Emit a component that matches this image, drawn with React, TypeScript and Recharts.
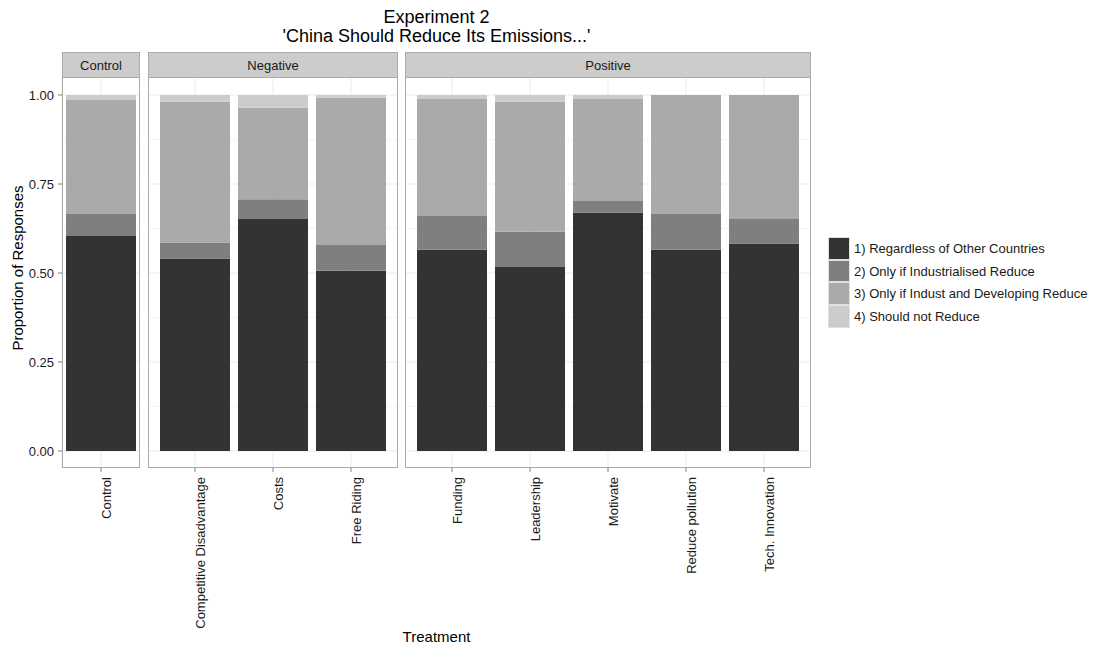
import React from "react";
import { BarChart, Bar, XAxis, YAxis, CartesianGrid } from "recharts";

// treatments in plot order, with the facet each belongs to
const treatments = [
  "Control",
  "Competitive Disadvantage",
  "Costs",
  "Free Riding",
  "Funding",
  "Leadership",
  "Motivate",
  "Reduce pollution",
  "Tech. Innovation",
];
const treatmentFacet = [
  "Control",
  "Negative",
  "Negative",
  "Negative",
  "Positive",
  "Positive",
  "Positive",
  "Positive",
  "Positive",
];

// proportion of responses per treatment
const regardless = [0.604, 0.541, 0.652, 0.506, 0.565, 0.517, 0.669, 0.565, 0.583];
const onlyIndustrialised = [0.062, 0.045, 0.055, 0.073, 0.095, 0.099, 0.033, 0.101, 0.069];
const industAndDeveloping = [0.32, 0.395, 0.257, 0.413, 0.329, 0.365, 0.287, 0.334, 0.348];
const shouldNotReduce = [0.014, 0.019, 0.036, 0.008, 0.011, 0.019, 0.011, 0.0, 0.0];

const yTicks = [0, 0.25, 0.5, 0.75, 1];
const yMinor = [0.125, 0.375, 0.625, 0.875];

const series = [
  { key: "regardless", name: "1) Regardless of Other Countries", color: "#333333" },
  { key: "industrialised", name: "2) Only if Industrialised Reduce", color: "#7F7F7F" },
  { key: "both", name: "3) Only if Indust and Developing Reduce", color: "#AAAAAA" },
  { key: "notReduce", name: "4) Should not Reduce", color: "#CCCCCC" },
];

const rows = treatments.map((t, i) => ({
  treatment: t,
  facet: treatmentFacet[i],
  regardless: regardless[i],
  industrialised: onlyIndustrialised[i],
  both: industAndDeveloping[i],
  notReduce: shouldNotReduce[i],
}));

const FONT = "'Liberation Sans', Arial, Helvetica, sans-serif";
const PLOT_TOP = 77;
const PLOT_BOTTOM = 468;
const CHART_H = 645;
const BORDER = "#ABABAB";

const panels = [
  { facet: "Control", left: 62, width: 78, pad: 0 },
  { facet: "Negative", left: 148, width: 250, pad: 8 },
  { facet: "Positive", left: 405, width: 406, pad: 8 },
];

function RotatedTick(props: any) {
  const { x, y, payload } = props;
  const tx = x + 10;
  const ty = y + 3;
  return (
    <text
      x={tx}
      y={ty}
      transform={`rotate(-90, ${tx}, ${ty})`}
      textAnchor="end"
      fontSize={13}
      fill="#1a1a1a"
      fontFamily={FONT}
    >
      {payload.value}
    </text>
  );
}

function Panel({ facet, left, width, pad, withYAxis }: any) {
  const data = rows.filter((r) => r.facet === facet);
  const yAxisWidth = 40;
  const marginLeft = withYAxis ? left - yAxisWidth : 0;
  const svgLeft = withYAxis ? 0 : left;
  return (
    <div style={{ position: "absolute", left: svgLeft, top: 0 }}>
      <BarChart
        width={marginLeft + (withYAxis ? yAxisWidth : 0) + width}
        height={CHART_H}
        data={data}
        margin={{ top: PLOT_TOP, right: 0, bottom: 0, left: marginLeft }}
        barSize={70}
      >
        <CartesianGrid
          horizontalValues={yMinor}
          vertical={false}
          stroke="#F4F4F4"
          strokeWidth={1}
        />
        <CartesianGrid horizontalValues={yTicks} stroke="#EBEBEB" strokeWidth={1} />
        <XAxis
          dataKey="treatment"
          type="category"
          interval={0}
          height={CHART_H - PLOT_BOTTOM}
          padding={{ left: pad, right: pad }}
          axisLine={false}
          tickSize={4}
          tickLine={{ stroke: "#7F7F7F" }}
          tick={<RotatedTick />}
        />
        <YAxis
          hide={!withYAxis}
          width={yAxisWidth}
          domain={[0, 1]}
          ticks={yTicks}
          padding={{ top: 18, bottom: 17 }}
          allowDataOverflow
          axisLine={false}
          tickSize={4}
          tickMargin={4}
          tickLine={{ stroke: "#7F7F7F" }}
          tick={{ fontSize: 13, fill: "#1a1a1a", fontFamily: FONT }}
          tickFormatter={(v: number) => v.toFixed(2)}
        />
        {series.map((s) => (
          <Bar
            key={s.key}
            dataKey={s.key}
            name={s.name}
            stackId="a"
            fill={s.color}
            isAnimationActive={false}
          />
        ))}
      </BarChart>
      {/* panel border */}
      <div
        style={{
          position: "absolute",
          left: withYAxis ? left : 0,
          top: PLOT_TOP,
          width: width,
          height: PLOT_BOTTOM - PLOT_TOP,
          border: `1px solid ${BORDER}`,
          boxSizing: "border-box",
          pointerEvents: "none",
        }}
      />
      {/* facet strip */}
      <div
        style={{
          position: "absolute",
          left: withYAxis ? left : 0,
          top: 52,
          width: width,
          height: PLOT_TOP - 52 + 1,
          background: "#CCCCCC",
          border: `1px solid ${BORDER}`,
          boxSizing: "border-box",
          fontFamily: FONT,
          fontSize: 13,
          color: "#1a1a1a",
          display: "flex",
          alignItems: "center",
          justifyContent: "center",
        }}
      >
        {facet}
      </div>
    </div>
  );
}

export default function App() {
  return (
    <div
      style={{
        position: "relative",
        width: 1098,
        height: 645,
        background: "#ffffff",
        fontFamily: FONT,
        overflow: "hidden",
      }}
    >
      <style>{"body{margin:0}"}</style>
      <div
        style={{
          position: "absolute",
          left: 62,
          width: 749,
          top: 8,
          textAlign: "center",
          fontSize: 18,
          lineHeight: "19px",
          color: "#000",
        }}
      >
        Experiment 2
        <br />
        'China Should Reduce Its Emissions...'
      </div>

      {panels.map((p, i) => (
        <Panel key={p.facet} {...p} withYAxis={i === 0} />
      ))}

      <div
        style={{
          position: "absolute",
          left: 18 - 150,
          top: 268 - 10,
          width: 300,
          height: 20,
          lineHeight: "20px",
          textAlign: "center",
          fontSize: 15,
          color: "#000",
          transform: "rotate(-90deg)",
        }}
      >
        Proportion of Responses
      </div>

      <div
        style={{
          position: "absolute",
          left: 62,
          width: 749,
          top: 627,
          lineHeight: "20px",
          textAlign: "center",
          fontSize: 15,
          color: "#000",
        }}
      >
        Treatment
      </div>

      {/* legend */}
      <div style={{ position: "absolute", left: 828, top: 237 }}>
        {series.map((s) => (
          <div
            key={s.key}
            style={{ display: "flex", alignItems: "center", height: 22.7 }}
          >
            <div
              style={{
                width: 22,
                height: 22.7,
                background: s.color,
                boxSizing: "border-box",
                border: "1px solid #E0E0E0",
              }}
            />
            <span style={{ marginLeft: 4, fontSize: 13, color: "#1a1a1a", whiteSpace: "nowrap" }}>
              {s.name}
            </span>
          </div>
        ))}
      </div>
    </div>
  );
}
